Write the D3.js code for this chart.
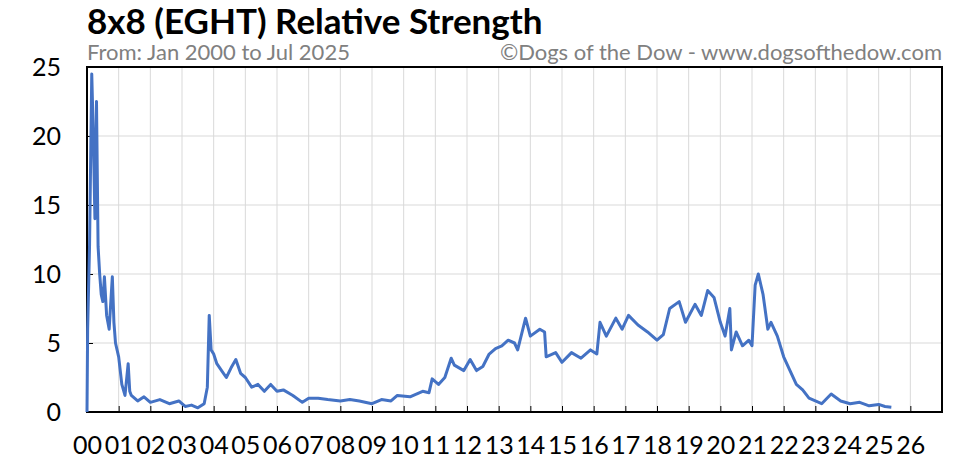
<!DOCTYPE html>
<html><head><meta charset="utf-8">
<script src="https://cdn.jsdelivr.net/npm/d3@7"></script>
<style>body{margin:0;background:#fff}text{font-family:Lato,"Liberation Sans",sans-serif}</style>
</head><body><svg width="958" height="465"></svg>
<script>
const yearLabels = ["00","01","02","03","04","05","06","07","08","09","10","11","12","13","14","15","16","17","18","19","20","21","22","23","24","25","26"];
const yTicks = [0, 5, 10, 15, 20, 25];
// years since Jan 2000
const times = [0,0.02,0.08,0.15,0.2,0.25,0.3,0.35,0.4,0.45,0.5,0.55,0.62,0.7,0.8,0.85,0.9,1.0,1.1,1.2,1.3,1.35,1.4,1.6,1.8,2.0,2.3,2.6,2.9,3.1,3.3,3.5,3.7,3.8,3.86,3.92,4.0,4.1,4.25,4.4,4.55,4.7,4.85,5.0,5.2,5.4,5.6,5.8,6.0,6.2,6.5,6.8,7.0,7.3,7.6,8.0,8.3,8.6,9.0,9.3,9.6,9.8,10.2,10.6,10.8,10.9,11.1,11.3,11.5,11.6,11.9,12.1,12.3,12.5,12.7,12.9,13.1,13.3,13.5,13.6,13.85,14.0,14.3,14.45,14.5,14.8,15.0,15.3,15.6,15.9,16.1,16.2,16.4,16.7,16.9,17.1,17.4,17.7,18.0,18.2,18.4,18.7,18.9,19.2,19.4,19.6,19.8,20.0,20.15,20.3,20.35,20.5,20.7,20.9,21.0,21.1,21.2,21.35,21.5,21.6,21.8,22.0,22.2,22.4,22.6,22.8,23.0,23.2,23.5,23.8,24.1,24.4,24.7,25.0,25.2,25.4,25.6];
const strength = [0,6,12,24.5,20,14,22.5,12,10,8.5,8,9.8,7,6,9.8,6.5,5,4,2,1.2,3.5,1.5,1.2,0.8,1.1,0.7,0.9,0.6,0.8,0.4,0.5,0.3,0.6,1.8,7,4.5,4.2,3.5,3,2.5,3.2,3.8,2.8,2.5,1.8,2,1.5,2,1.5,1.6,1.2,0.7,1.0,1.0,0.9,0.8,0.9,0.8,0.6,0.9,0.8,1.2,1.1,1.5,1.4,2.4,2.0,2.5,3.9,3.4,3.0,3.8,3.0,3.3,4.2,4.6,4.8,5.2,5.0,4.5,6.8,5.5,6.0,5.8,4.0,4.3,3.6,4.3,3.9,4.5,4.2,6.5,5.5,6.8,6.0,7.0,6.3,5.8,5.2,5.6,7.5,8.0,6.5,7.8,7.0,8.8,8.3,6.5,5.5,7.5,4.5,5.8,4.8,5.2,4.8,9.2,10.0,8.5,6.0,6.5,5.5,4.0,3.0,2.0,1.6,1.0,0.8,0.6,1.3,0.8,0.6,0.7,0.45,0.55,0.4,0.35];

const svg = d3.select("svg");
const margin = { top: 67, right: 16, bottom: 53, left: 87 };
const innerWidth = 958 - margin.left - margin.right;
const innerHeight = 465 - margin.top - margin.bottom;
const g = svg.append("g").attr("transform", `translate(${margin.left},${margin.top})`);

const x = d3.scaleLinear().domain([0, 27]).range([0, innerWidth]);
const y = d3.scaleLinear().domain([0, 25]).range([innerHeight, 0]);

g.append("g").selectAll("line").data(yearLabels).enter().append("line")
  .attr("x1", (d, i) => x(i)).attr("x2", (d, i) => x(i))
  .attr("y1", 0).attr("y2", innerHeight).attr("stroke", "#d9d9d9");
g.append("g").selectAll("line").data(yTicks).enter().append("line")
  .attr("x1", 0).attr("x2", innerWidth)
  .attr("y1", d => y(d)).attr("y2", d => y(d)).attr("stroke", "#d9d9d9");

const xAxis = g.append("g").attr("transform", `translate(0,${innerHeight})`)
  .call(d3.axisBottom(x).tickValues(d3.range(27)).tickFormat(i => yearLabels[i]).tickSize(-6).tickPadding(24));
xAxis.select(".domain").remove();
xAxis.selectAll("line").attr("stroke", "#000");
xAxis.selectAll("text").attr("font-size", 25).attr("fill", "#000");

const yAxis = g.append("g")
  .call(d3.axisLeft(y).tickValues(yTicks).tickSize(-6).tickPadding(26));
yAxis.select(".domain").remove();
yAxis.selectAll("text").attr("font-size", 25).attr("fill", "#000");

g.append("rect").attr("width", innerWidth).attr("height", innerHeight)
  .attr("fill", "none").attr("stroke", "#000").attr("stroke-width", 2);

const pts = times.map((t, i) => [t, strength[i]]);
g.append("path").datum(pts)
  .attr("d", d3.line().x(d => x(d[0])).y(d => y(d[1])))
  .attr("fill", "none").attr("stroke", "#4472c4").attr("stroke-width", 3)
  .attr("stroke-linejoin", "round");

svg.append("text").attr("x", 87).attr("y", 34).attr("font-size", 35).attr("font-weight", "bold")
  .text("8x8 (EGHT) Relative Strength");
svg.append("text").attr("x", 87).attr("y", 60).attr("font-size", 22).attr("fill", "#808080")
  .text("From: Jan 2000 to Jul 2025");
svg.append("text").attr("x", 942).attr("y", 60).attr("font-size", 22).attr("fill", "#808080")
  .attr("text-anchor", "end").text("©Dogs of the Dow - www.dogsofthedow.com");
</script></body></html>
